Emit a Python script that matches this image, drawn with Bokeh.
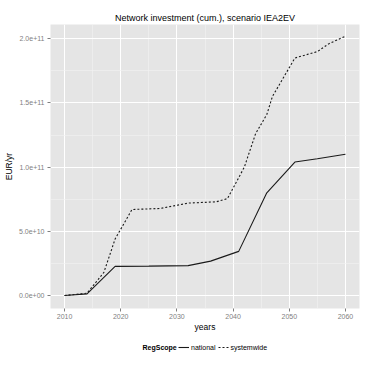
from bokeh.plotting import figure
from bokeh.layouts import column
from bokeh.models import Range1d, FixedTicker, Legend, LegendItem, Label
from bokeh.embed import file_html
from bokeh.resources import INLINE

title = "Network investment (cum.), scenario IEA2EV"
x_label = "years"
y_label = "EUR/yr"
legend_title = "RegScope"
series_names = ["national", "systemwide"]

nat_years = [2010, 2014, 2019, 2025, 2032, 2036, 2041, 2046, 2051, 2055, 2060]
nat_vals = [0, 0.13e10, 2.27e10, 2.29e10, 2.33e10, 2.68e10, 3.44e10, 8.0e10, 1.04e11, 1.065e11, 1.10e11]

sys_years = [2010, 2014, 2017, 2019, 2022, 2027, 2032, 2037, 2039, 2042, 2044, 2046, 2047, 2051, 2055, 2057, 2060]
sys_vals = [0, 0.18e10, 1.8e10, 4.4e10, 6.7e10, 6.78e10, 7.2e10, 7.3e10, 7.55e10, 1.0e11, 1.26e11,
            1.41e11, 1.55e11, 1.85e11, 1.90e11, 1.96e11, 2.02e11]

x_ticks = [2010, 2020, 2030, 2040, 2050, 2060]
x_minor = [2015, 2025, 2035, 2045, 2055]
y_ticks = [0, 5e10, 1e11, 1.5e11, 2e11]
y_tick_labels = ["0.0e+00", "5.0e+10", "1.0e+11", "1.5e+11", "2.0e+11"]
y_minor = [2.5e10, 7.5e10, 1.25e11, 1.75e11]

FONT = "Liberation Sans"
LINE_COLOR = "#1A1A1A"
DASHES = ["solid", "2 2"]

p = figure(frame_width=309, frame_height=284, output_backend="svg", toolbar_location=None,
           x_range=Range1d(2007.5, 2062.5), y_range=Range1d(-1.01e10, 2.111e11),
           min_border_left=50, min_border_right=12, min_border_top=24, min_border_bottom=5)
p.title.text = title
p.title.align = "center"
p.title.text_font = FONT
p.title.text_font_size = "9px"
p.title.text_font_style = "normal"
p.title.text_color = "#000000"
p.title.standoff = 4

p.background_fill_color = "#E5E5E5"
p.border_fill_color = "#FFFFFF"
p.outline_line_color = None

p.xaxis.ticker = FixedTicker(ticks=x_ticks, minor_ticks=x_minor)
p.yaxis.ticker = FixedTicker(ticks=y_ticks, minor_ticks=y_minor)
p.yaxis.major_label_overrides = {t: l for t, l in zip(y_ticks, y_tick_labels)}

for ax in (p.xaxis, p.yaxis):
    ax.axis_line_color = None
    ax.major_tick_line_color = "#7F7F7F"
    ax.major_tick_in = 0
    ax.major_tick_out = 3
    ax.minor_tick_line_color = None
    ax.major_label_text_font = FONT
    ax.major_label_text_font_size = "7px"
    ax.major_label_text_color = "#7F7F7F"
    ax.major_label_standoff = 2
    ax.axis_label_text_font = FONT
    ax.axis_label_text_font_size = "8.5px"
    ax.axis_label_text_font_style = "normal"
    ax.axis_label_text_color = "#000000"
    ax.axis_label_standoff = 2
p.xaxis.major_label_standoff = 1
p.xaxis.axis_label_standoff = 0

p.xaxis.axis_label = x_label
p.yaxis.axis_label = y_label

p.grid.grid_line_color = "#FFFFFF"
p.grid.grid_line_width = 1
p.grid.minor_grid_line_color = "#F2F2F2"
p.grid.minor_grid_line_width = 0.6

p.line(nat_years, nat_vals, line_color=LINE_COLOR, line_width=1.1, line_dash=DASHES[0])
p.line(sys_years, sys_vals, line_color=LINE_COLOR, line_width=1.1, line_dash=DASHES[1])

# legend row below the plot (its frame is aligned with the main plot's frame)
lg = figure(width=371, height=24, output_backend="svg", toolbar_location=None,
            x_axis_type=None, y_axis_type=None, min_border=0,
            x_range=Range1d(0, 1), y_range=Range1d(0, 1))
lg.outline_line_color = None
lg.grid.visible = False
lg.background_fill_color = "#FFFFFF"
lg.border_fill_color = "#FFFFFF"
# proxy renderers (their data lies outside this strip's ranges, so only the legend keys show)
proxies = [lg.line(nat_years, nat_vals, line_color=LINE_COLOR, line_width=1.1, line_dash=DASHES[0]),
           lg.line(sys_years, sys_vals, line_color=LINE_COLOR, line_width=1.1, line_dash=DASHES[1])]
legend = Legend(items=[LegendItem(label=n, renderers=[r]) for n, r in zip(series_names, proxies)],
                orientation="horizontal", location=(128, 5),
                background_fill_alpha=0, border_line_color=None,
                label_text_font=FONT, label_text_font_size="7px", label_text_color="#000000",
                label_height=12,
                glyph_width=11, glyph_height=12, spacing=2, padding=0, margin=0,
                label_standoff=2)
lg.add_layout(legend, "center")
lg.add_layout(Label(x=92, y=11, x_units="screen", y_units="screen", text=legend_title,
                    text_font=FONT, text_font_size="7px", text_font_style="bold",
                    text_baseline="middle", text_align="left", text_color="#000000"))

layout = column(p, lg, spacing=0)
open("out.html", "w").write(file_html(layout, INLINE))
